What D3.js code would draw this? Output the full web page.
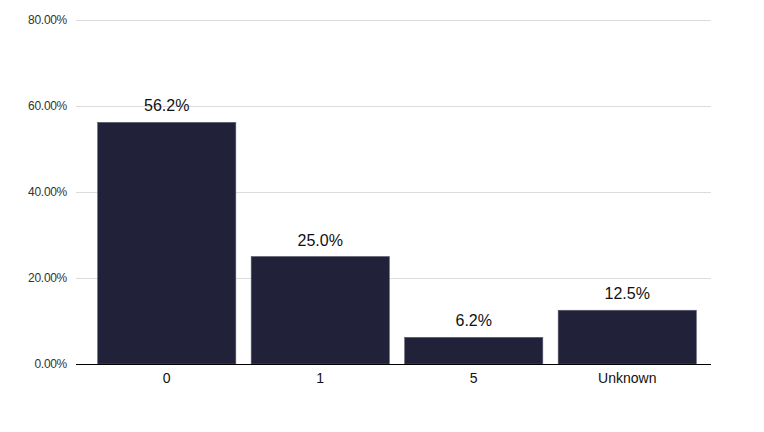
<!DOCTYPE html>
<html><head><meta charset="utf-8">
<script src="https://cdn.jsdelivr.net/npm/d3@7"></script>
<style>body{margin:0;background:#fff}svg{display:block}</style>
</head><body>
<svg id="c" width="764" height="432"></svg>
<script>
const categories = ["0", "1", "5", "Unknown"];
const values = [56.2, 25.0, 6.2, 12.5];
const yTicks = [0, 20, 40, 60, 80];

(function () {
const svg = d3.select("#c");
const font = "'Liberation Sans', Arial, Helvetica, sans-serif";
const mLeft = 76, mRight = 711, mTop = 20, mBottom = 364;

const y = d3.scaleLinear().domain([0, 80]).range([mBottom, mTop]);
const x = d3.scaleBand().domain(categories).range([90, 704]).paddingInner(0.1).paddingOuter(0.05);

// gridlines
svg.append("g").selectAll("line").data(yTicks.filter(d => d > 0)).join("line")
  .attr("x1", mLeft).attr("x2", mRight)
  .attr("y1", d => y(d) + 0.5).attr("y2", d => y(d) + 0.5)
  .attr("stroke", "#dcdcdc").attr("stroke-width", 1);

// y labels
svg.append("g").selectAll("text").data(yTicks).join("text")
  .attr("x", 67).attr("y", d => y(d)).attr("dy", "0.35em")
  .attr("text-anchor", "end").attr("font-family", font).attr("font-size", 12)
  .attr("letter-spacing", -0.3)
  .attr("fill", "#333").text(d => d.toFixed(2) + "%");

// bars
svg.append("g").selectAll("rect").data(values).join("rect")
  .attr("x", (d, i) => x(categories[i])).attr("width", x.bandwidth())
  .attr("y", d => y(d)).attr("height", d => mBottom - y(d))
  .attr("fill", "#212139").attr("stroke", "#5a5a6e").attr("stroke-width", 0.6);

// value labels
svg.append("g").selectAll("text").data(values).join("text")
  .attr("x", (d, i) => x(categories[i]) + x.bandwidth() / 2)
  .attr("y", d => y(d) - 11)
  .attr("text-anchor", "middle").attr("font-family", font).attr("font-size", 16)
  .attr("fill", "#111").text(d => d.toFixed(1) + "%");

// baseline
svg.append("line").attr("x1", mLeft).attr("x2", mRight).attr("y1", mBottom + 0.5).attr("y2", mBottom + 0.5)
  .attr("stroke", "#000").attr("stroke-width", 1);

// x labels
svg.append("g").selectAll("text").data(categories).join("text")
  .attr("x", d => x(d) + x.bandwidth() / 2).attr("y", mBottom + 19)
  .attr("text-anchor", "middle").attr("font-family", font).attr("font-size", 14)
  .attr("fill", "#111").text(d => d);
})();
</script>
</body></html>
